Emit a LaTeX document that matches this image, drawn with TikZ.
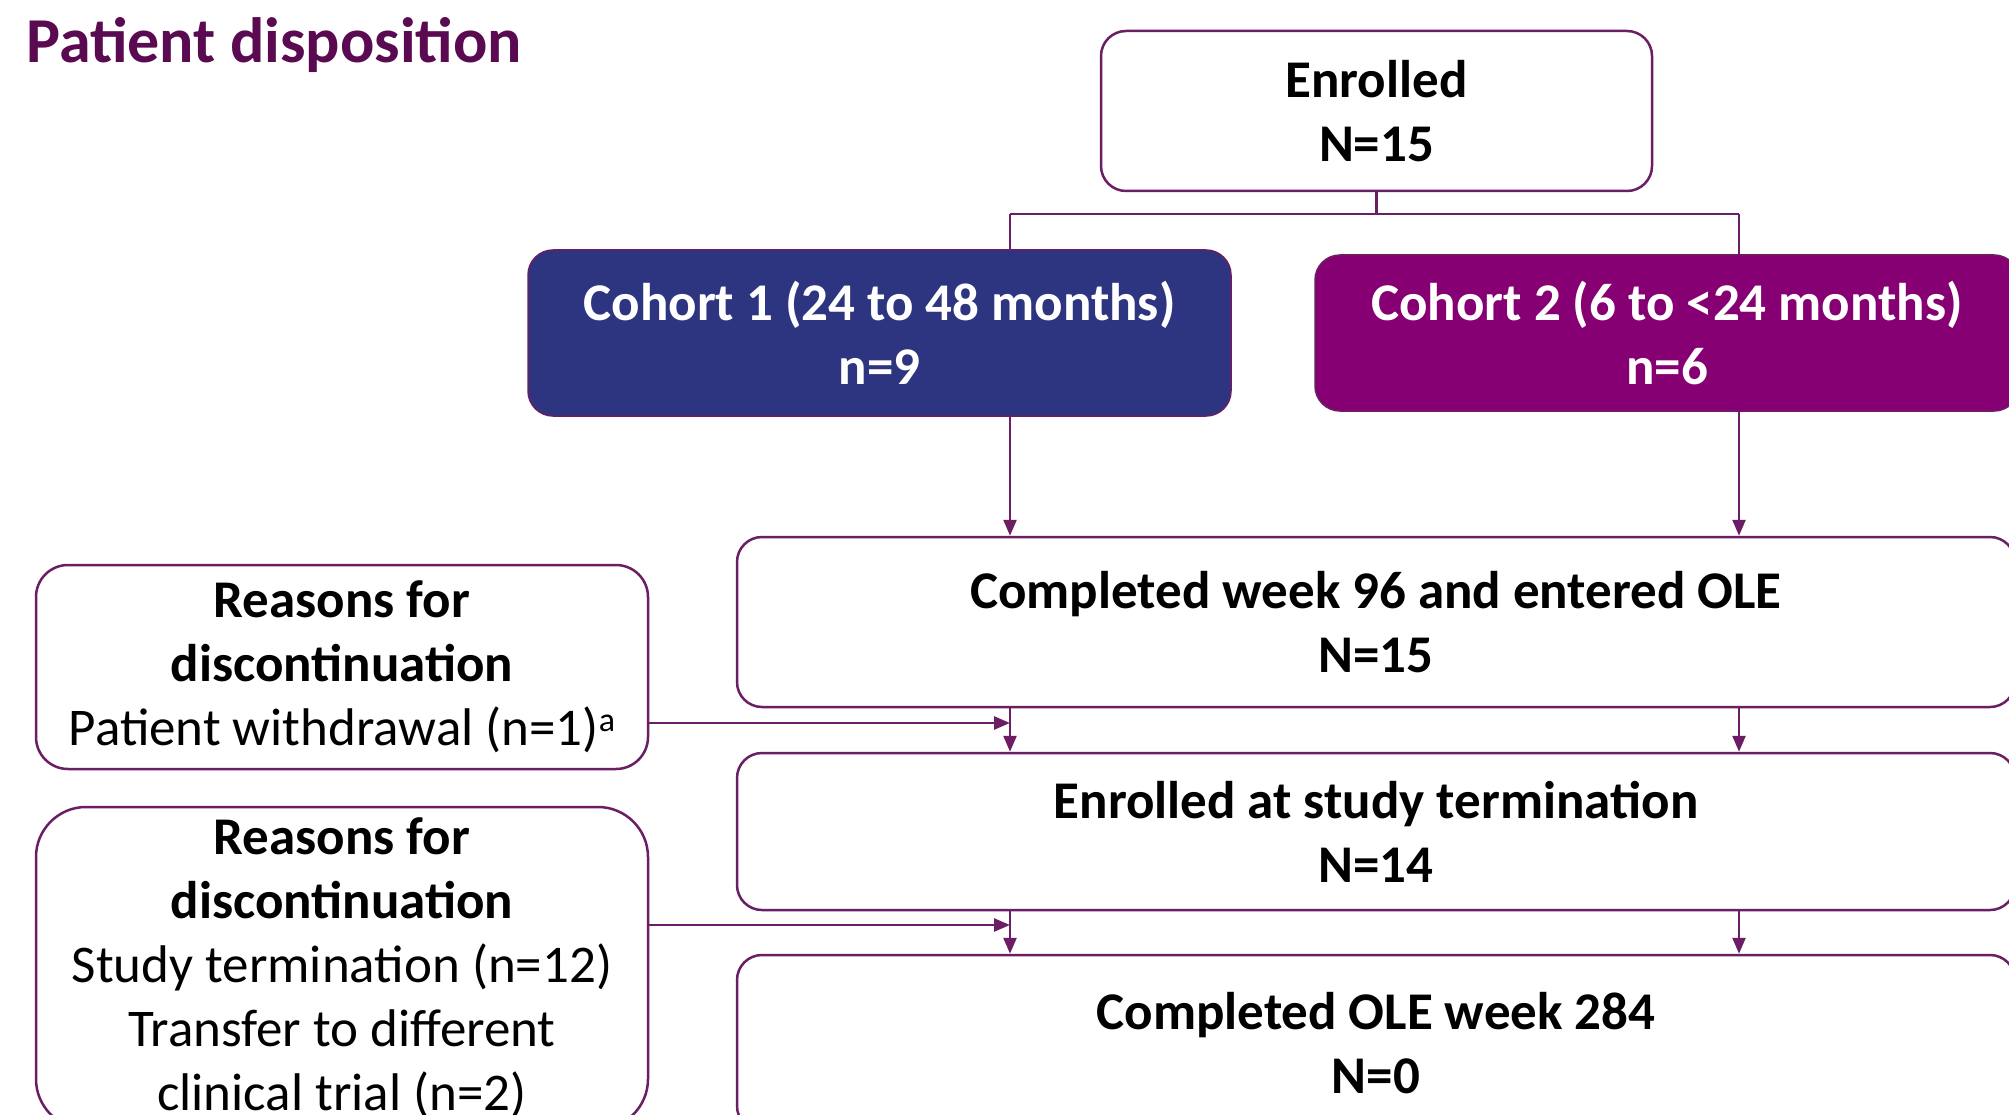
\documentclass[tikz,border=0pt]{standalone}
\usepackage{fontspec}
\setmainfont{Carlito}
\usetikzlibrary{arrows.meta}
\definecolor{titlecol}{RGB}{90,10,80}
\definecolor{linecol}{RGB}{107,30,100}
\definecolor{cohortone}{RGB}{45,53,128}
\definecolor{cohorttwo}{RGB}{134,0,116}
\newcommand{\supa}{\raisebox{14pt}{\fontsize{34}{34}\selectfont a}}
\begin{document}
\begin{tikzpicture}[x=1pt,y=-1pt,
  box/.style={draw=linecol, line width=2.5pt, rounded corners=25pt, fill=white, inner sep=0pt,
    align=center, text=black, font=\fontsize{53}{64}\selectfont\bfseries},
  cohortbox/.style={box, text=white, draw=linecol, line width=1.5pt},
  reasonbox/.style={box, font=\fontsize{53}{64}\selectfont},
  conn/.style={draw=linecol, line width=2.5pt},
  arr/.style={conn, -{Triangle[width=13pt,length=16pt]}}]
\useasboundingbox (0,0) rectangle (2009,1115);
\clip (0,0) rectangle (2009,1115);
\fill[white] (0,0) rectangle (2009,1115);

\node[anchor=base west, inner sep=0pt, text=titlecol, font=\fontsize{64}{77}\selectfont\bfseries] (title) at (26,63) {Patient disposition};

\node[box, minimum width=551pt, minimum height=160pt] (enr) at (1376.5,111) {Enrolled\\N=15};
\node[cohortbox, fill=cohortone, minimum width=703pt, minimum height=166pt] (c1) at (879.5,333) {Cohort 1 (24 to 48 months)\\n=9};
\node[cohortbox, fill=cohorttwo, minimum width=704pt, minimum height=156pt] (c2) at (1667,333) {Cohort 2 (6 to <24 months)\\n=6};
\node[box, minimum width=1278pt, minimum height=170pt] (b96) at (1376,622) {Completed week 96 and entered OLE\\N=15};
\node[box, minimum width=1278pt, minimum height=157pt] (bterm) at (1376,831.5) {Enrolled at study termination\\N=14};
\node[box, minimum width=1278pt, minimum height=176pt] (bole) at (1376,1043) {Completed OLE week 284\\N=0};
\node[reasonbox, rounded corners=32pt, minimum width=612pt, minimum height=204pt] (r1) at (342,667)
  {\textbf{Reasons for}\\\textbf{discontinuation}\\Patient withdrawal (n=1)\supa};
\node[reasonbox, rounded corners=50pt, minimum width=612pt, minimum height=322pt] (r2) at (342,968)
  {\textbf{Reasons for}\\\textbf{discontinuation}\\Study termination (n=12)\\Transfer to different\\clinical trial (n=2)};

\coordinate (jl) at (1010,214);
\coordinate (jr) at (1739,214);
\draw[conn] (enr.south) -- (enr.south |- jl);
\draw[conn] (jl) -- (jr);
\draw[conn] (jl) -- (jl |- c1.north);
\draw[conn] (jr) -- (jr |- c2.north);
\draw[arr] (jl |- c1.south) -- (jl |- b96.north);
\draw[arr] (jr |- c2.south) -- (jr |- b96.north);
\draw[arr] (jl |- b96.south) -- (jl |- bterm.north);
\draw[arr] (jr |- b96.south) -- (jr |- bterm.north);
\draw[arr] (jl |- bterm.south) -- (jl |- bole.north);
\draw[arr] (jr |- bterm.south) -- (jr |- bole.north);

\coordinate (a1) at (1010,723);
\coordinate (a2) at (1010,925);
\draw[arr] (r1.east |- a1) -- (a1);
\draw[arr] (r2.east |- a2) -- (a2);
\end{tikzpicture}
\end{document}
